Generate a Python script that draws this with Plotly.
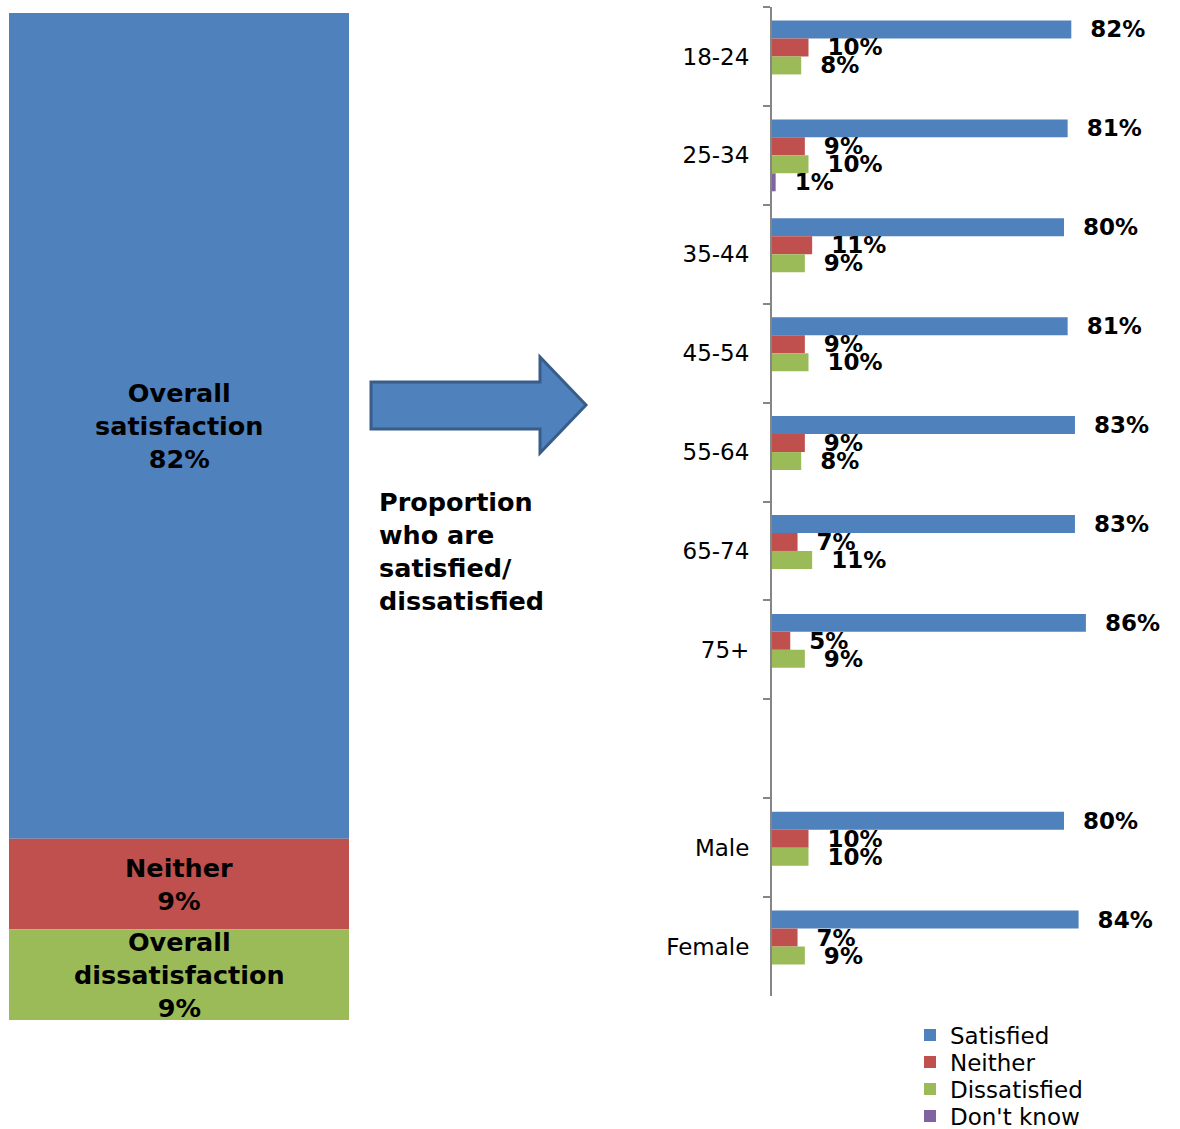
import numpy as np
import plotly.graph_objects as go

# ---- data -------------------------------------------------------------
groups = ["18-24", "25-34", "35-44", "45-54", "55-64", "65-74", "75+", " ", "Male", "Female"]
satisfied = [82, 81, 80, 81, 83, 83, 86, None, 80, 84]
neither = [10, 9, 11, 9, 9, 7, 5, None, 10, 7]
dissatisfied = [8, 10, 9, 10, 8, 11, 9, None, 10, 9]
dont_know = [None, 1, None, None, None, None, None, None, None, None]

overall_labels = ["Overall<br>satisfaction", "Neither", "Overall<br>dissatisfaction"]
overall_values = [82, 9, 9]

series_names = ["Satisfied", "Neither", "Dissatisfied", "Don't know"]
series_colors = ["#4F81BD", "#C0504D", "#9BBB59", "#8064A2"]

W, H = 1180, 1129
FONT = "DejaVu Sans"


def px_x(p):
    return p / W


def px_y(p):
    return 1 - p / H


fig = go.Figure()

# ---- overall stacked column (left) -------------------------------------
overall_base = 100 - np.cumsum(overall_values)
fig.add_trace(go.Bar(
    x=["Overall"] * len(overall_values),
    y=overall_values,
    base=overall_base,
    width=1,
    marker=dict(color=series_colors[:3], line=dict(width=0)),
    xaxis="x2", yaxis="y2",
    showlegend=False,
    hoverinfo="skip",
))
for lab, v, b in zip(overall_labels, overall_values, overall_base):
    fig.add_annotation(
        x="Overall", y=b + v / 2, xref="x2", yref="y2",
        text=f"{lab}<br>{v}%", showarrow=False,
        font=dict(family=FONT, size=25.5, color="black", weight="bold"),
        align="center",
    )

# ---- breakdown by group (right) -----------------------------------------
# one small legend per series so the key rows sit close together
legend_ids = ["legend", "legend2", "legend3", "legend4"]
for name, vals, col, lg in zip(series_names, [satisfied, neither, dissatisfied, dont_know],
                               series_colors, legend_ids):
    fig.add_trace(go.Bar(
        name=name,
        y=groups,
        x=vals,
        orientation="h",
        marker=dict(color=col, line=dict(width=0)),
        text=[("\u00a0\u00a0" + f"{v}%") if v is not None else "" for v in vals],
        textposition="outside",
        textfont=dict(family=FONT, size=23, color="black", weight="bold"),
        constraintext="none",
        cliponaxis=False,
        hoverinfo="skip",
        legend=lg,
    ))

# ---- arrow between the two panels ---------------------------------------
arrow_pts = [(371, 382), (540, 382), (540, 357), (586, 405), (540, 453), (540, 429), (371, 429)]
path = "M " + " L ".join(f"{px_x(x):.5f},{px_y(y):.5f}" for x, y in arrow_pts) + " Z"
fig.add_shape(type="path", path=path, xref="paper", yref="paper",
              fillcolor="#4F81BD", line=dict(color="#385D8A", width=3))

fig.add_annotation(
    x=px_x(377), y=px_y(551), xref="paper", yref="paper",
    xanchor="left", yanchor="middle", align="left", showarrow=False,
    text="Proportion<br>who are<br>satisfied/<br>dissatisfied",
    font=dict(family=FONT, size=25.5, color="black", weight="bold"),
)

axis_grey = "#868686"
legend_style = dict(xanchor="left", yanchor="middle", bgcolor="rgba(0,0,0,0)",
                    font=dict(family=FONT, size=23, color="black"), itemwidth=30)
legend_rows = [1035, 1062, 1089, 1116]

fig.update_layout(
    width=W, height=H,
    margin=dict(l=0, r=0, t=0, b=0, autoexpand=False),
    paper_bgcolor="white", plot_bgcolor="white",
    barmode="group", bargap=0.273, bargroupgap=0,
    font=dict(family=FONT, size=22, color="black"),
    xaxis=dict(domain=[px_x(772), px_x(1137)], range=[0, 100],
               visible=False, fixedrange=True),
    yaxis=dict(domain=[px_y(996), px_y(7)], type="category",
               categoryorder="array", categoryarray=groups,
               autorange="reversed",
               showline=True, linecolor=axis_grey, linewidth=2,
               ticks="outside", ticklen=7, tickcolor=axis_grey, tickwidth=2,
               tickson="boundaries", ticklabelstandoff=16,
               showgrid=False, zeroline=False,
               tickfont=dict(family=FONT, size=23, color="black")),
    xaxis2=dict(domain=[px_x(9), px_x(349)], range=[-0.5, 0.5],
                visible=False, anchor="y2"),
    yaxis2=dict(domain=[px_y(1020), px_y(13)], range=[0, 100],
                visible=False, anchor="x2"),
)
for lg, row in zip(legend_ids, legend_rows):
    fig.update_layout({lg: dict(x=px_x(910), y=px_y(row), **legend_style)})

fig.write_html("out.html")
